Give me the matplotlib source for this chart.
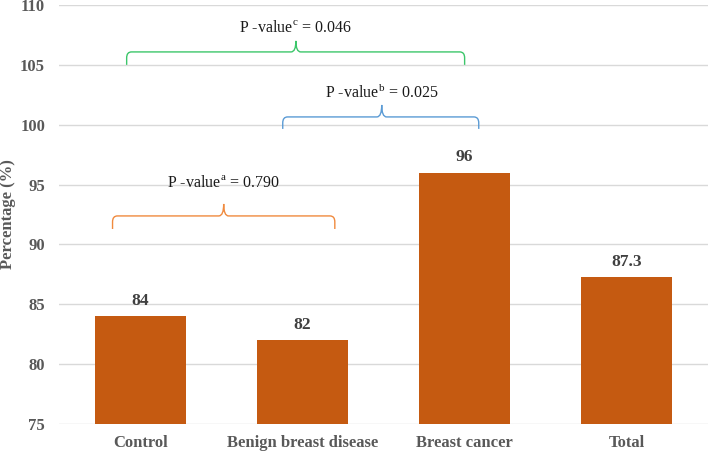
import matplotlib
matplotlib.use("Agg")
import matplotlib.pyplot as plt
from matplotlib.path import Path
from matplotlib.patches import PathPatch

categories = ["Control", "Benign breast disease", "Breast cancer", "Total"]
percentages = [84, 82, 96, 87.3]
value_labels = ["84", "82", "96", "87.3"]

p_labels = ["a", "b", "c"]
p_values = ["0.790", "0.025", "0.046"]

# brace geometry in data coords: x0, x1, tip x, end y, bar y, tip y, text y
brace_geom = [
    (-0.17, 1.20, 0.515, 91.29, 92.38, 93.38, 95.1),
    (0.879, 2.087, 1.489, 99.65, 100.65, 101.65, 102.7),
    (-0.083, 2.0, 0.96, 105.0, 106.08, 107.0, 108.05),
]
brace_colors = ["#F08A3E", "#5B9BD5", "#3CC66A"]

plt.rcParams["font.family"] = ["Liberation Serif", "DejaVu Serif"]
plt.rcParams["mathtext.fontset"] = "custom"
plt.rcParams["mathtext.rm"] = "Liberation Serif"

fig = plt.figure(figsize=(7.08, 4.53), dpi=100)
ax = fig.add_axes([59 / 708, 29 / 453, 649 / 708, 419 / 453])

x = list(range(len(categories)))
heights = [p - 75 for p in percentages]
ax.bar(x, heights, bottom=75, width=0.56, color="#C55A11", zorder=3)
for xi, p, lab in zip(x, percentages, value_labels):
    ax.text(xi, p + 0.6, lab, ha="center", va="bottom", fontsize=12.5,
            fontweight="bold", color="#404040", zorder=4)


def draw_brace(ax, x0, x1, xt, yend, ybar, ytip, color):
    dx = 0.03
    dy = 0.5
    verts = [
        (x0, yend), (x0, ybar - dy),
        (x0, ybar), (x0 + dx, ybar),
        (xt - dx, ybar),
        (xt, ybar), (xt, ytip),
        (xt, ybar), (xt + dx, ybar),
        (x1 - dx, ybar),
        (x1, ybar), (x1, ybar - dy),
        (x1, yend),
    ]
    codes = [
        Path.MOVETO, Path.LINETO,
        Path.CURVE3, Path.CURVE3,
        Path.LINETO,
        Path.CURVE3, Path.CURVE3,
        Path.CURVE3, Path.CURVE3,
        Path.LINETO,
        Path.CURVE3, Path.CURVE3,
        Path.LINETO,
    ]
    ax.add_patch(PathPatch(Path(verts, codes), fill=False, edgecolor=color,
                           linewidth=1.0, zorder=4, clip_on=False))


for (x0, x1, xt, yend, ybar, ytip, ytext), color, sup, pv in zip(
        brace_geom, brace_colors, p_labels, p_values):
    draw_brace(ax, x0, x1, xt, yend, ybar, ytip, color)
    ax.text(xt, ytext, r"P -value$^{\mathrm{%s}}$ = %s" % (sup, pv),
            ha="center", va="center", fontsize=11.5, color="#1a1a1a", zorder=4)

ax.set_xlim(-0.5, 3.5)
ax.set_ylim(75, 110)
ax.set_yticks(range(75, 111, 5))
ax.set_xticks(x)
ax.set_xticklabels(categories)
ax.yaxis.grid(True, color="#D9D9D9", linewidth=1.0, zorder=0)
ax.set_axisbelow(True)
for s in ax.spines.values():
    s.set_visible(False)
ax.tick_params(axis="both", length=0, labelcolor="#595959", labelsize=12)
ax.tick_params(axis="y", pad=10)
ax.tick_params(axis="x", pad=8)
for lbl in ax.get_xticklabels() + ax.get_yticklabels():
    lbl.set_fontweight("bold")
ax.set_ylabel("Percentage (%)", fontsize=12, fontweight="bold", color="#595959")
ax.yaxis.set_label_coords(-0.066, 0.5)

fig.savefig("out.png", dpi=100)
